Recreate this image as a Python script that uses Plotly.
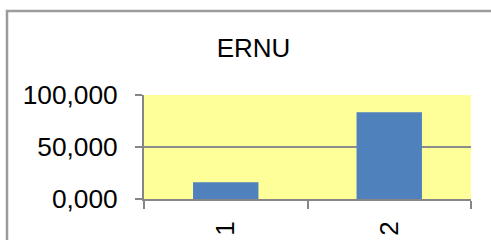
import plotly.graph_objects as go

categories = ["1", "2"]
values = [16.0, 83.5]
title_text = "ERNU"

W, H = 491, 240
ml, mr, mt, mb = 144, 20, 95, 41
pw, ph = W - ml - mr, H - mt - mb

fig = go.Figure()
fig.add_trace(go.Bar(
    x=categories, y=values,
    marker=dict(color="#4F81BD", line=dict(width=0)),
    width=0.4,
))

def px_to_paper_x(px):
    return (px - ml) / pw

def px_to_paper_y(py):
    return (H - mb - py) / ph

fig.add_shape(type="rect", xref="paper", yref="paper",
              x0=px_to_paper_x(7), x1=2.0, y0=-2.0, y1=px_to_paper_y(11),
              line=dict(color="#9c9c9c", width=2.5), layer="below")

fig.update_layout(
    width=W, height=H,
    margin=dict(l=ml, r=mr, t=mt, b=mb, pad=0, autoexpand=False),
    paper_bgcolor="white",
    plot_bgcolor="#FFFF99",
    separators=",.",
    showlegend=False,
    font=dict(family="Arial, Liberation Sans, sans-serif", size=26, color="black"),
    title=dict(text=title_text, x=253.5 / W, xanchor="center", xref="container",
               y=1 - 48 / H, yanchor="middle", yref="container",
               font=dict(size=26, color="black")),
    xaxis=dict(type="category", tickson="boundaries", ticks="outside",
               ticklen=8, tickwidth=2, tickcolor="#868686",
               showline=True, linecolor="#868686", linewidth=2,
               showgrid=False, tickangle=-90, ticklabelstandoff=10,
               tickfont=dict(size=26), range=[-0.5, 1.5], automargin=False),
    yaxis=dict(range=[0, 100], dtick=50, tickformat=".3f",
               ticks="outside", ticklen=7, tickwidth=2, tickcolor="#868686",
               showline=True, linecolor="#868686", linewidth=2,
               showgrid=True, gridcolor="#8c8c8c", gridwidth=2,
               zeroline=False, ticklabelstandoff=12,
               tickfont=dict(size=26.3), automargin=False),
    bargap=0.6,
)

fig.write_html("out.html", config={"displayModeBar": False},
               post_script="document.body.style.margin='0';")
